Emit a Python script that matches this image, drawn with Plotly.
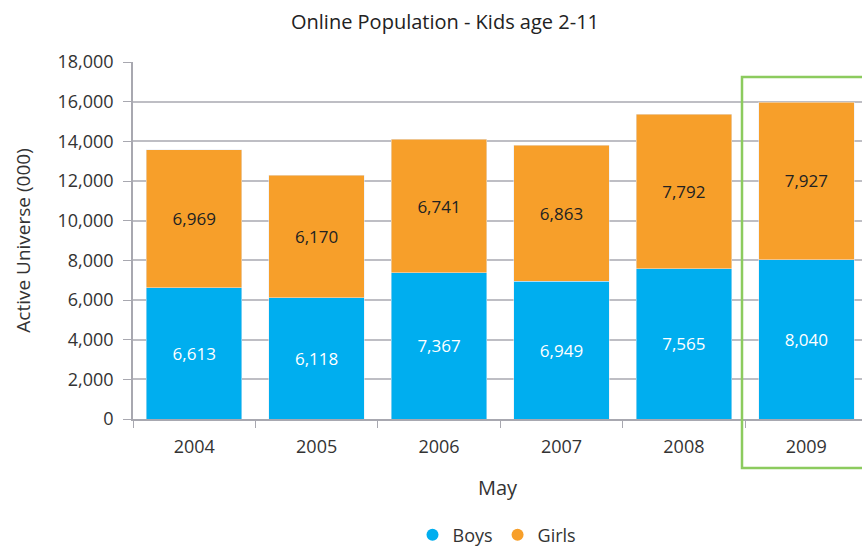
import plotly.graph_objects as go

years = ["2004", "2005", "2006", "2007", "2008", "2009"]
boys = [6613, 6118, 7367, 6949, 7565, 8040]
girls = [6969, 6170, 6741, 6863, 7792, 7927]
y_ticks = [0, 2000, 4000, 6000, 8000, 10000, 12000, 14000, 16000, 18000]

BLUE = "#00AEEF"
ORANGE = "#F79F2A"
FONT = "Open Sans"

fig = go.Figure()
fig.add_trace(go.Bar(
    x=years, y=boys, name="Boys", marker_color=BLUE, width=0.78,
    text=[f"{v:,}" for v in boys], textposition="inside", insidetextanchor="middle",
    textfont=dict(color="white", size=17, family=FONT), showlegend=False,
    textangle=0,
))
fig.add_trace(go.Bar(
    x=years, y=girls, name="Girls", marker_color=ORANGE, width=0.78,
    text=[f"{v:,}" for v in girls], textposition="inside", insidetextanchor="middle",
    textfont=dict(color="#222222", size=17, family=FONT), showlegend=False,
    textangle=0,
))
# legend entries with circle markers
fig.add_trace(go.Scatter(x=[None], y=[None], mode="markers", name="Boys",
                         marker=dict(color=BLUE, size=15, symbol="circle")))
fig.add_trace(go.Scatter(x=[None], y=[None], mode="markers", name="Girls",
                         marker=dict(color=ORANGE, size=15, symbol="circle")))

fig.update_layout(
    barmode="stack",
    width=862, height=546,
    margin=dict(l=133, r=0, t=62, b=127),
    paper_bgcolor="white", plot_bgcolor="white",
    font=dict(family=FONT, size=16, color="#333333"),
    title=dict(text="Online Population - Kids age 2-11", x=445/862, xref="container",
               xanchor="center", y=1 - 22/546, yanchor="middle", yref="container",
               font=dict(size=20, color="#222222")),
    legend=dict(orientation="h", traceorder="normal", x=497/862, xanchor="center", xref="container",
                y=1 - 535/546, yanchor="middle", yref="container",
                font=dict(size=18, color="#333333"), itemsizing="constant",
                itemwidth=30),
    shapes=[dict(type="rect", xref="paper", yref="paper",
                 x0=(742 - 133) / 729, x1=1.02,
                 y0=(419 - 468) / 357, y1=(419 - 77) / 357,
                 line=dict(color="#8CCB5E", width=2.5), fillcolor="rgba(0,0,0,0)")],
)
fig.update_xaxes(
    type="category", range=[-0.5, 5.455],
    showline=True, linecolor="#A8A8B0", linewidth=1.5,
    ticks="outside", ticklen=7, tickcolor="#A8A8B0", tickson="boundaries",
    tickfont=dict(size=18, color="#333333"), ticklabelstandoff=11,
    title=dict(text="May", font=dict(size=20, color="#333333"), standoff=24),
)
fig.update_yaxes(
    range=[0, 18000], tickvals=y_ticks, ticktext=[f"{v:,}" for v in y_ticks],
    showgrid=True, gridcolor="#BEBEC4", gridwidth=1.5,
    showline=True, linecolor="#A8A8B0", linewidth=1.5,
    ticks="outside", ticklen=8, tickcolor="#A8A8B0",
    tickfont=dict(size=18, color="#333333"), ticklabelstandoff=6,
    title=dict(text="Active Universe (000)", font=dict(size=19, color="#333333"), standoff=22),
)

fig.write_html("out.html")
